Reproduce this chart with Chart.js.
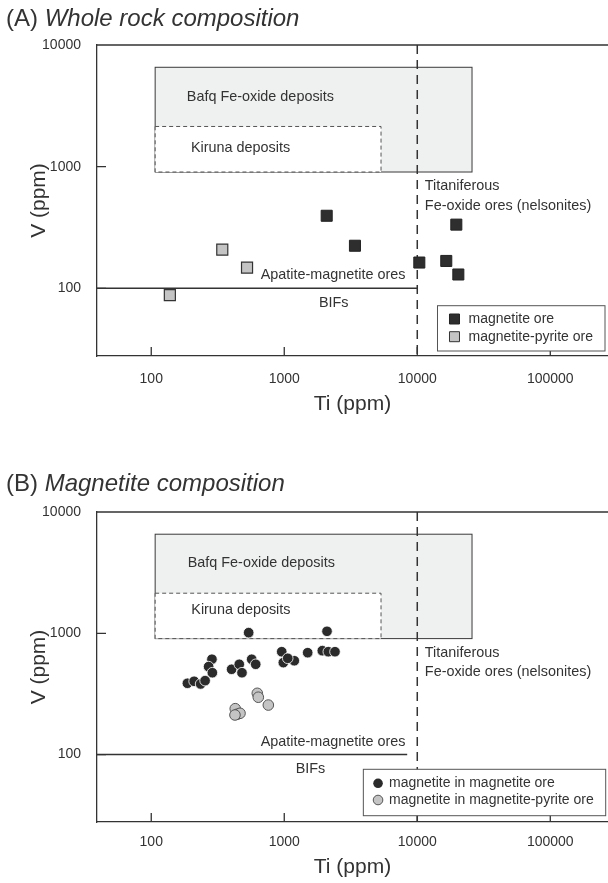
<!DOCTYPE html>
<html>
<head>
<meta charset="utf-8">
<script src="https://cdn.jsdelivr.net/npm/chart.js@4"></script>
<style>
  body { margin: 0; background: #fff; width: 608px; height: 883px; position: relative; overflow: hidden;
         font-family: "Liberation Sans", Arial, sans-serif; color: #333; }
  canvas { position: absolute; left: 0; }
  .title { position: absolute; left: 6px; font-size: 24px; line-height: 28px; white-space: nowrap; }
</style>
</head>
<body>
<canvas id="chartA" width="608" height="420" style="top:0"></canvas>
<canvas id="chartB" width="608" height="443" style="top:440px"></canvas>
<div class="title" style="top:4px">(A) <i>Whole rock composition</i></div>
<div class="title" style="top:469px">(B) <i>Magnetite composition</i></div>
<script>
// axes
const tiTicks = [100, 1000, 10000, 100000];
const vTicks = [100, 1000, 10000];
const tiMin = 39.1, tiMax = 271600;
const vMin = 27.8, vMax = 10000;

// (A) whole rock
const rockMagnetiteTi = [2085, 3400, 10360, 19660, 16520, 20360];
const rockMagnetiteV  = [395, 224, 163, 334, 168, 130];
const rockPyriteTi = [342, 525, 138];
const rockPyriteV  = [208, 148, 88];

// (B) magnetite
const mtMagnetiteTi = [540, 2096, 286, 270, 288, 187, 210, 235, 254, 402, 459, 481, 569, 610,
                       957, 984, 1190, 1062, 1500, 1932, 2143, 2406];
const mtMagnetiteV  = [1012, 1038, 611, 531, 473, 387, 402, 382, 407, 505, 555, 473, 611, 555,
                       705, 573, 594, 622, 692, 719, 705, 705];
const mtPyriteTi = [627, 638, 759, 428, 443, 465, 426];
const mtPyriteV  = [320, 297, 256, 239, 215, 219, 212];

// reference fields
const bafqTi = [107, 25800], bafqV = [904, 6560];
const kirunaTi = [107, 5340], kirunaV = [904, 2140];
const tiLimit = 10000, bifV = 100;

const FONT = "'Liberation Sans', Arial, sans-serif";
const INK = '#333';

const toPoints = (xs, ys) => xs.map((x, i) => ({ x: x, y: ys[i] }));

const diagramPlugin = {
  id: 'diagram',
  beforeDatasetsDraw(chart, args, o) {
    const { ctx, chartArea: a, scales: { x, y } } = chart;
    const px = v => x.getPixelForValue(v), py = v => y.getPixelForValue(v);
    ctx.save();
    // Bafq field
    let l = px(bafqTi[0]), r = px(bafqTi[1]), t = py(bafqV[1]), b = py(bafqV[0]);
    ctx.fillStyle = '#eff0f0';
    ctx.fillRect(l, t, r - l, b - t);
    ctx.strokeStyle = '#3a3a3a';
    ctx.lineWidth = 1;
    ctx.strokeRect(l, t, r - l, b - t);
    // Kiruna field
    l = px(kirunaTi[0]); r = px(kirunaTi[1]); t = py(kirunaV[1]); b = py(kirunaV[0]);
    ctx.fillStyle = '#fff';
    ctx.fillRect(l, t, r - l, b - t);
    ctx.strokeStyle = '#555';
    ctx.setLineDash([4, 3]);
    ctx.strokeRect(l, t, r - l, b - t);
    // Ti limit
    ctx.strokeStyle = INK;
    ctx.lineWidth = 1.5;
    ctx.setLineDash([9, 6]);
    ctx.beginPath();
    ctx.moveTo(px(tiLimit), a.top);
    ctx.lineTo(px(tiLimit), a.bottom);
    ctx.stroke();
    ctx.setLineDash([]);
    // BIF line
    ctx.beginPath();
    ctx.moveTo(a.left, py(bifV));
    ctx.lineTo(px(o.bifEnd), py(bifV));
    ctx.stroke();
    // top frame line + inner ticks
    ctx.lineWidth = 1.3;
    ctx.beginPath();
    ctx.moveTo(a.left, a.top);
    ctx.lineTo(a.right, a.top);
    tiTicks.forEach(v => { ctx.moveTo(px(v), a.bottom); ctx.lineTo(px(v), a.bottom - 9); });
    vTicks.forEach(v => { ctx.moveTo(a.left, py(v)); ctx.lineTo(a.left + 9, py(v)); });
    ctx.stroke();
    // labels
    ctx.fillStyle = INK;
    ctx.font = '14.4px ' + FONT;
    ctx.textAlign = 'left';
    ctx.textBaseline = 'middle';
    o.labels.forEach(lb => ctx.fillText(lb.text, px(lb.ti), py(lb.v)));
    ctx.restore();
  },
  afterDraw(chart, args, o) {
    const { ctx, chartArea: a } = chart;
    const lg = o.legend;
    const sets = chart.data.datasets;
    ctx.save();
    ctx.font = '14px ' + FONT;
    const tw = Math.max(...sets.map(d => ctx.measureText(d.label).width));
    const w = lg.textX + tw + 12;
    const right = a.right - lg.right, bottom = a.bottom - lg.bottom;
    const left = right - w, top = bottom - lg.height;
    ctx.fillStyle = '#fff';
    ctx.fillRect(left, top, w, lg.height);
    ctx.strokeStyle = '#555';
    ctx.lineWidth = 1;
    ctx.strokeRect(left, top, w, lg.height);
    sets.forEach((d, i) => {
      const cx = left + lg.symbolX, cy = top + lg.rowY[i];
      ctx.fillStyle = d.backgroundColor;
      ctx.strokeStyle = d.pointStyle === 'rect' ? d.borderColor : '#555';
      ctx.lineWidth = 1;
      ctx.beginPath();
      if (d.pointStyle === 'rect') ctx.rect(cx - 5, cy - 5, 10, 10);
      else ctx.arc(cx, cy, 4.8, 0, Math.PI * 2);
      ctx.fill();
      if (i > 0 || d.pointStyle === 'rect') ctx.stroke();
      ctx.fillStyle = INK;
      ctx.textAlign = 'left';
      ctx.textBaseline = 'middle';
      ctx.fillText(d.label, left + lg.textX, cy);
    });
    ctx.restore();
  }
};

function buildChart(id, cfg) {
  return new Chart(document.getElementById(id), {
    type: 'scatter',
    data: { datasets: cfg.datasets },
    options: {
      responsive: false,
      animation: false,
      events: [],
      // no extra room for point overflow, the plot runs to the page edge
      layout: { autoPadding: false, padding: { top: cfg.padTop, left: 0, right: 0, bottom: 0 } },
      plugins: { legend: { display: false }, tooltip: { enabled: false }, diagram: cfg.diagram },
      scales: {
        x: {
          type: 'logarithmic', min: tiMin, max: tiMax,
          afterBuildTicks: s => { s.ticks = tiTicks.map(v => ({ value: v })); },
          afterFit: s => { s.height = cfg.xHeight; },
          grid: { display: false },
          border: { display: true, color: INK, width: 1.3 },
          ticks: { color: INK, font: { size: 14, family: FONT }, padding: cfg.xPad, maxRotation: 0,
                   autoSkip: false, callback: v => String(v) },
          title: { display: true, text: 'Ti (ppm)', color: INK, font: { size: 21, family: FONT },
                   padding: { top: 0, bottom: 3 } }
        },
        y: {
          type: 'logarithmic', min: vMin, max: vMax,
          afterBuildTicks: s => { s.ticks = vTicks.map(v => ({ value: v })); },
          afterFit: s => { s.width = 97; },
          grid: { display: false },
          border: { display: true, color: INK, width: 1.3 },
          ticks: { color: INK, font: { size: 14, family: FONT }, padding: 8, autoSkip: false,
                   callback: v => String(v) },
          title: { display: true, text: 'V (ppm)', color: INK, font: { size: 21, family: FONT },
                   padding: { top: 27, bottom: 0 } }
        }
      }
    },
    plugins: [diagramPlugin]
  });
}

const titaniferous = [
  { text: 'Titaniferous', ti: 11400, v: 690 },
  { text: 'Fe-oxide ores (nelsonites)', ti: 11400, v: 476 }
];

buildChart('chartA', {
  padTop: 45, xHeight: 64, xPad: 7,
  datasets: [
    { label: 'magnetite ore', data: toPoints(rockMagnetiteTi, rockMagnetiteV), pointStyle: 'rect',
      pointRadius: 7.8, backgroundColor: '#2e2e2e', borderColor: '#222', borderWidth: 1 },
    { label: 'magnetite-pyrite ore', data: toPoints(rockPyriteTi, rockPyriteV), pointStyle: 'rect',
      pointRadius: 7.8, backgroundColor: '#c4c4c4', borderColor: '#333', borderWidth: 1.2 }
  ],
  diagram: {
    bifEnd: 10000,
    labels: [
      { text: 'Bafq Fe-oxide deposits', ti: 185, v: 3760 },
      { text: 'Kiruna deposits', ti: 199, v: 1426 },
      { text: 'Apatite-magnetite ores', ti: 665, v: 129 },
      { text: 'BIFs', ti: 1824, v: 76 }
    ].concat(titaniferous),
    legend: { symbolX: 17, textX: 31, rowY: [13.3, 31], height: 45.3, right: 3, bottom: 5 }
  }
});

buildChart('chartB', {
  padTop: 72, xHeight: 61, xPad: 4,
  datasets: [
    { label: 'magnetite in magnetite ore', data: toPoints(mtMagnetiteTi, mtMagnetiteV), pointStyle: 'circle',
      pointRadius: 5.3, backgroundColor: '#2b2b2b', borderColor: '#fff', borderWidth: 0.8 },
    { label: 'magnetite in magnetite-pyrite ore', data: toPoints(mtPyriteTi, mtPyriteV), pointStyle: 'circle',
      pointRadius: 5.3, backgroundColor: '#c4c4c4', borderColor: '#555', borderWidth: 1 }
  ],
  diagram: {
    bifEnd: 8400,
    labels: [
      { text: 'Bafq Fe-oxide deposits', ti: 188, v: 3820 },
      { text: 'Kiruna deposits', ti: 200, v: 1556 },
      { text: 'Apatite-magnetite ores', ti: 665, v: 128 },
      { text: 'BIFs', ti: 1219, v: 75.7 }
    ].concat(titaniferous),
    legend: { symbolX: 14.7, textX: 25.7, rowY: [14, 30.7], height: 46.4, right: 2.3, bottom: 6.3 }
  }
});
</script>
</body>
</html>
